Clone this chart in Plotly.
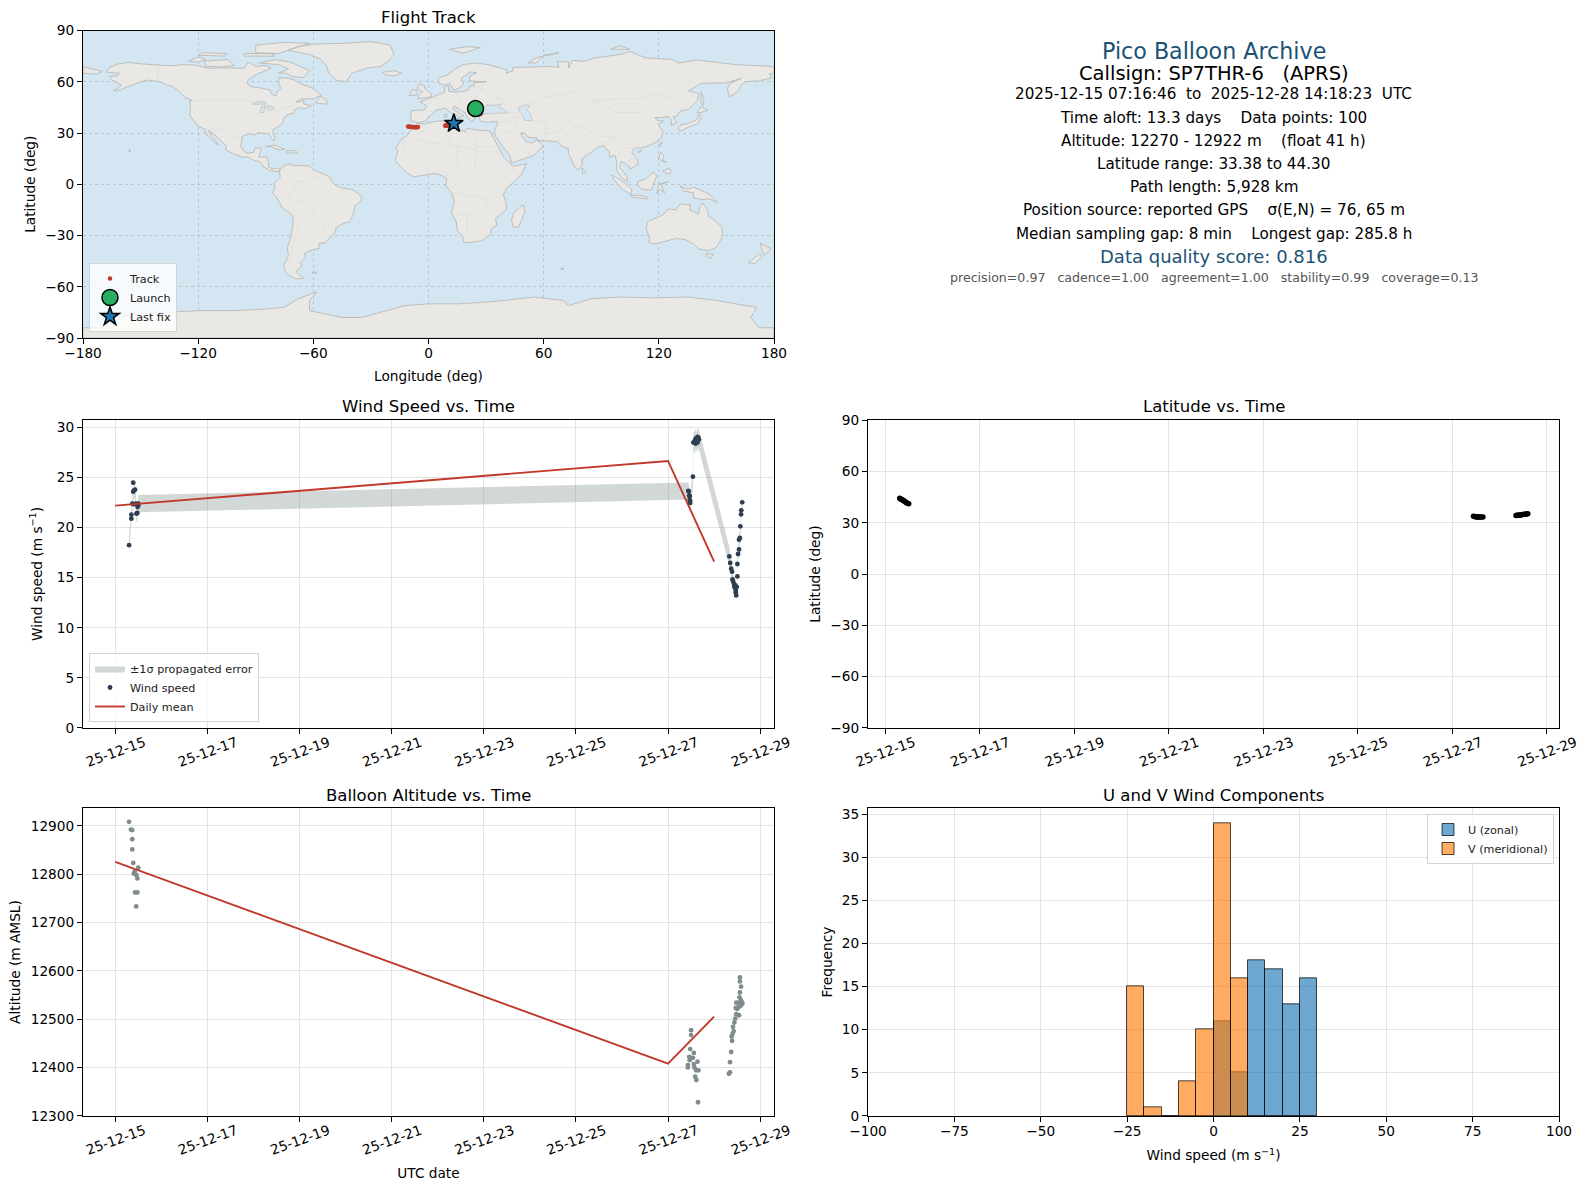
import pandas as pd
import plotly.graph_objects as go

W, H = 1587, 1189
FONT = "DejaVu Sans"
GRID = "#e3e3e3"

# --- map outlines, (lon, lat) ---
NORTH_AMERICA = [(-168,65.6),(-166,68.3),(-162,70.3),(-156.5,71.3),(-150,70.5),(-141,69.7),(-135,69.3),(-128,70),(-122,69.8),(-115,68),(-108,68),(-100,68),(-96,68),(-94,71.5),(-90,69),(-85,69.5),(-82,68),(-86,66),(-90,64),(-94,61),(-94.5,58.8),(-92,57),(-88,56.5),(-82.5,55.2),(-82,53),(-79.5,51.5),(-79,54),(-77,56),(-78,59),(-78,62.4),(-73,62),(-70,61),(-66,58.5),(-62,57),(-58,54.5),(-56,52),(-60,50),(-66,50),(-69,48),(-65,49),(-65,47),(-61,46),(-65,44),(-67,45),(-70,43.5),(-70,41.7),(-74,40.5),(-75.5,38),(-76,35.5),(-78,34),(-81,32),(-81,30),(-80,27),(-80.5,25.2),(-82,27),(-83,29.5),(-85,29.7),(-89,30.2),(-90,29),(-94,29.5),(-97,28),(-97.5,25),(-97.8,22),(-96,19),(-94,18.2),(-91,18.7),(-90.5,21),(-87,21.5),(-88,18),(-88.5,16),(-84,15.8),(-83.3,12),(-83.5,10),(-81,9),(-79.5,9.5),(-77.4,8.7),(-78,7.5),(-80,7.5),(-83,8.2),(-85.7,10),(-87.5,13),(-91,14),(-94,16),(-97,15.8),(-102,18),(-105.5,20),(-105.5,22.5),(-109,26),(-112.5,30),(-114.7,31.5),(-113,28),(-110,24),(-109.5,23),(-112,25),(-115,28.5),(-117,32.5),(-120.5,34.5),(-122.5,37.5),(-124.3,40.5),(-124,46),(-124.7,48.4),(-123,49),(-127,51),(-130,54.5),(-133,57),(-137,58.5),(-140,60),(-146,61),(-150,60),(-152,59),(-156,57.5),(-160,55.5),(-164,54.7),(-160,58),(-162,59.5),(-165,61),(-166,63),(-162,63.5),(-161,65)]
GREENLAND = [(-73,78.3),(-68,80.5),(-60,82),(-45,82.5),(-30,83.5),(-20,81.5),(-18,76),(-21,72),(-25,69),(-32,68),(-40,65),(-43,60),(-48,61),(-52,65),(-53,69),(-56,73),(-62,76)]
SOUTH_AMERICA = [(-77.5,8.5),(-75,11),(-72,12),(-71,11),(-68,11),(-62,10.7),(-60,8.5),(-55,6),(-51.5,4.5),(-50,1),(-48,-1),(-44,-2.5),(-40,-3),(-37,-5),(-35,-7),(-35,-9.5),(-38.5,-13),(-39,-17),(-41,-22),(-44.5,-23),(-48,-25.5),(-48.7,-28),(-52,-32),(-54,-34.5),(-57,-34.5),(-57,-37.5),(-62,-39),(-65,-41),(-64,-42.5),(-67,-46),(-66,-48),(-69,-51),(-68,-52.5),(-65,-55),(-69,-55.5),(-74,-52.5),(-75.5,-48),(-73,-42),(-73.5,-37),(-71.5,-30),(-70.3,-20),(-72,-17),(-76,-14),(-79,-8),(-81.3,-5),(-80,-2.5),(-80.5,0.5),(-78.5,2.5),(-77.3,4),(-77.5,7)]
AFRICA = [(-6,35.8),(-2,35.2),(3,36.8),(10,37.3),(10.5,34),(15,32.5),(19,30.5),(20,32.7),(25,31.7),(32,31.2),(32.5,30),(34,27),(36,23),(37.3,20),(39,16),(43,12),(44,10.5),(51,12),(49,7),(46,3),(41,-2),(39,-6),(40.5,-11),(40.5,-15),(35,-20),(35.5,-24),(32.8,-26),(32.5,-29),(28,-33),(22,-34),(18.5,-34.3),(18,-31),(15,-27),(14.5,-22),(12,-17),(13.5,-10),(12,-5),(9,-1),(9.5,3.5),(8,4.5),(4.5,6.2),(1,6),(-4,5),(-7.5,4.3),(-11,6.5),(-13.5,9.5),(-16.5,12.5),(-17.3,14.7),(-16,19),(-17,21),(-14.5,26),(-11,28.5),(-9.7,31),(-6.7,34)]
EURASIA = [(-9,37),(-9.3,39),(-9,43),(-2,43.5),(-1,46),(-4.5,48.3),(-1,49.5),(2,51),(4,52),(7,53.5),(8.5,54),(8.2,57),(10.5,57.5),(10.5,54.5),(14,54),(19,54.5),(21,55.5),(21.5,57.5),(24,57.5),(23.5,59.3),(28,59.7),(30,60),(25,60.2),(21.5,60.7),(21.5,63),(25,65.3),(22,65.8),(17.5,62.5),(17,60.5),(18.5,59.5),(16.5,56.5),(14.3,55.5),(12.8,55.5),(11.2,59),(8,58),(5.5,59),(5,62),(10,64),(14,67.5),(18,70),(25,71),(31,70),(41,67),(40.5,65),(44,66.5),(44,68.5),(54,68.5),(60,69),(68,68.5),(67,72),(73,71.5),(73,68),(75,72.5),(81,72),(87,74),(100,76),(105,77.7),(113,74),(127,73),(130,71),(140,72.7),(152,71),(160,70),(170,69.5),(178,69),(180,68.9),(180,65),(177.5,64.5),(179,62.3),(172,60.5),(165,60),(162.5,57.5),(162,55),(158,52),(156.7,51),(155.7,56),(157,59),(163,62),(155,59.3),(148,59.3),(142,59),(135.5,54.7),(141,53),(140,49),(135.5,44),(131,42.7),(129.5,40),(127.5,39.5),(129.3,36),(126.5,34.5),(126.5,37.5),(125,39.6),(121.5,39),(118,39),(119,37.5),(122.5,37),(119.5,35),(122,31),(121.5,28),(118.5,24.5),(114,22.3),(110,21),(108,21.5),(105.7,19),(109,14),(109,11.5),(105,8.7),(104.8,10.3),(100.5,13.5),(99.5,10),(103.5,4.5),(103.5,1.4),(100.5,4),(98,8.5),(98,14),(97,17),(94.5,16),(94,19),(91.5,22.5),(88.5,21.7),(86.5,20),(82,16.5),(80,15),(80,11),(78,8.3),(76,10.5),(73,18),(72.7,21),(69,22.5),(67,25),(62,25.2),(57,25.7),(56.5,27),(52,27.5),(50,30),(48,30),(49,28),(51,25),(54,24.2),(56.3,26),(59.8,22.5),(55,17),(45,13),(43.2,12.7),(42.5,16.5),(39,21.5),(35,28),(34.8,29.5),(34.3,31.3),(35.8,35),(36,36.8),(30.5,36.3),(27,37),(26.3,39.5),(29,41),(26,40.6),(23,40.5),(24,38),(22.5,36.7),(20,39.5),(19.5,41.5),(13.5,45.6),(12.3,44.3),(16,41.5),(18.4,40),(16.5,39.5),(15.8,38),(15.5,40),(11,42.5),(8.8,44.4),(4,43.4),(3,42),(0,39.5),(-0.5,38),(-2,36.8),(-5.5,36)]
CHUKOTKA_WEST = [(-180,68.9),(-175,67.3),(-170,66),(-173,64.5),(-180,65)]
AUSTRALIA = [(114,-22),(113.5,-26),(115,-31),(115,-34.3),(118,-35),(124,-33),(129,-31.7),(134,-32.5),(138,-35),(141,-38),(146,-39),(150,-37),(153,-31),(153,-25.5),(149,-21),(146,-19),(145.3,-15),(143,-11),(141.5,-13),(140.5,-17.5),(136,-15),(136.5,-12),(131,-11.5),(129,-15),(125,-14.5),(122,-18)]
ANTARCTICA = [(-180,-84),(-165,-84),(-158,-77),(-145,-75.5),(-120,-74),(-100,-74),(-85,-73),(-75,-72),(-68,-67),(-58,-63),(-62,-68),(-62,-74),(-45,-78),(-35,-78),(-25,-75),(-12,-71),(0,-70),(15,-70),(30,-69),(40,-68),(55,-66),(70,-68),(73,-71),(85,-67),(100,-66),(118,-66.5),(135,-66),(150,-68),(165,-71),(171,-72),(168,-78),(172,-84),(180,-84),(180,-90),(-180,-90)]
ISLANDS = [
    [(-80,73),(-72,71.5),(-67,69),(-62,66.5),(-65,62.5),(-71,63),(-74,65),(-78,65),(-73,67.5),(-78,70),(-88,71)],
    [(-117,72),(-105,73),(-101,69.5),(-108,68.7),(-116,69)],
    [(-90,77),(-78,76.5),(-72,79),(-62,82.5),(-75,83),(-90,81.5)],
    [(-125,72),(-120,74.5),(-116,73),(-120,71.5)],
    [(-96,75),(-80,75),(-82,76.5),(-96,76.5)],
    [(-120,75.5),(-106,75),(-105,76.5),(-118,77)],
    [(-59,47.7),(-53,46.8),(-53,49),(-56,51.5)],
    [(-85,22),(-80,23),(-75,20.5),(-78,20),(-82,22)],
    [(-74,19.8),(-69,19.5),(-68.5,18.5),(-74,18.2)],
    [(-156,20.2),(-155,19.5),(-156,19)],
    [(-5.5,50),(1.5,51.2),(1.5,53),(-2,56),(-2,57.7),(-5,58.6),(-6,56),(-3,54),(-5,52)],
    [(-10,52),(-6,52.2),(-6,55),(-8.5,55.3)],
    [(-24,65.5),(-18,66.5),(-14,65),(-18,63.4),(-22.5,64)],
    [(11,79),(20,80.5),(27,80),(18,76.7)],
    [(52,71),(56,74),(68,77),(60,75.5),(56,71)],
    [(95,79),(105,79),(100,81)],
    [(142,54),(143.5,50),(143,46),(142,48)],
    [(130,33),(131,34.5),(136,35.8),(140,38),(141,41.3),(142,39),(140.5,35.5),(136,33.7),(131,31)],
    [(140,42),(142,45.5),(145.5,43.3),(142,42)],
    [(120,23),(121.7,25),(121,22)],
    [(109,19),(111,20),(110,18.3)],
    [(120,16),(121,18.5),(122.5,17),(122,14),(124,13),(121,13.7)],
    [(122,7.5),(125.5,9.5),(126.5,7),(125,6)],
    [(109,1.5),(113,3),(117,7),(119,5),(117.5,1),(116,-3.5),(111,-3),(109,-0.5)],
    [(95.3,5.5),(98,4),(103.5,-0.5),(106,-3),(105.5,-6),(101,-3),(97,2)],
    [(105.5,-6.5),(110,-6.5),(114.5,-7.7),(114,-8.7),(106,-7.5)],
    [(119,-5.5),(120,0),(125,1.5),(121,0),(123,-5),(120.5,-3)],
    [(131,-1),(135,-3),(138,-1.7),(145,-5),(148,-8),(150.5,-10.5),(146,-8.5),(143,-9),(138,-8),(138,-5),(133,-4)],
    [(80,9.5),(82,7.5),(80.5,6)],
    [(144.7,-40.7),(148.3,-41),(147,-43.5),(145.5,-42.5)],
    [(172.7,-34.5),(178.5,-37.7),(175,-41.5),(174,-39)],
    [(172.5,-40.7),(174,-42),(170,-46.5),(166.5,-46),(171,-42)],
    [(49.3,-12),(50.3,-16),(47,-25),(44,-25),(43.3,-21),(44.5,-16.5)],
    [(12.5,38),(15.5,38.2),(15,36.7)],
    [(8.2,41),(9.7,41),(9.5,39),(8.5,39)],
    [(-61,-51.5),(-58,-51.5),(-59,-52.3)],
    [(69,-49),(70.5,-49.5),(69.5,-50)],
]
WATER = [
    [(28,41.5),(31,41.2),(36,41.5),(41.5,41.8),(39,44),(36.5,45),(38,47),(35,46.3),(33,46),(30.5,46.5),(28,43.5)],
    [(47,45),(51,46.8),(53,45.5),(51,44),(53,41),(54,37),(50,37.5),(49,40.5),(47,43)],
    [(-92,46.8),(-85,47),(-85,48),(-89,48.5)],
    [(-87.8,42),(-86,42),(-85,46),(-87,45.5)],
    [(-84,46),(-80,45),(-82,43),(-84,44)],
]
BORDERS = [
    [(-123,49),(-95,49),(-88,48),(-83,46),(-82,42),(-79,43),(-75,45),(-70,46),(-67,45)],
    [(-117,32.5),(-106,31.7),(-103,29),(-97.5,25.9)],
    [(-141,69.7),(-141,60)],
    [(-70,-10),(-74,-7),(-70,-4),(-70,1),(-64,2),(-60,5),(-52,2)],
    [(-70,-10),(-65,-10),(-60,-14),(-58,-20),(-55,-24),(-54,-27),(-57,-30),(-53.5,-33.5)],
    [(-70,-18),(-67,-23),(-70,-33),(-71,-40),(-72,-50),(-68,-52)],
    [(28,60),(28,56),(32,52),(40,49.5),(38,47)],
    [(49,46),(60,51),(77,54),(87,49),(98,50),(108,50),(120,53),(135,48),(131,42.7)],
    [(-9,27),(-3,25),(12,23),(25,20),(25,32)],
    [(25,22),(36,22)],
    [(10,33),(9,30),(12,23)],
    [(-2,35),(-1,32),(-9,27.5)],
    [(-17,21),(-13,21),(-13,27)],
    [(15,23),(15,12),(9,4.5)],
    [(25,20),(24,10),(34,4),(41,-2)],
    [(34,10),(36,14)],
    [(14,-17.5),(24,-18),(30,-22),(32.5,-26)],
    [(12,-5),(30,-8),(30,-15),(40.5,-11)],
    [(20,-18),(20,-28),(17,-29)],
    [(-2,43.5),(3,42.5)],
    [(2.5,51),(8,49),(7,44)],
    [(14,54),(15,51),(17,48),(13.5,46)],
    [(24,58),(28,56),(24,50),(22,48),(29,45.5),(28,41.5)],
    [(35,36.5),(42,37),(44.5,39.5),(48,38.5)],
    [(44.5,37),(46,33),(48,30)],
    [(39,32),(47,29),(52,23),(55,22),(52,19),(53,17)],
    [(61,25),(61,36),(54,37.5)],
    [(61,30),(66,30),(70,33),(74,37),(80,42),(87,49)],
    [(67,25),(71,28),(74,32),(78,35),(88,28),(97,28),(98,24),(101,21),(108,21.5)],
    [(92,21),(92,25),(97,28)],
    [(42,42),(48,42)],
    [(98,14),(100,20)],
    [(103,13),(107,15)],
    [(87,49),(98,42),(112,42),(120,47)],
]

# --- track, day of December 2025 ---
track_day = [15.31,15.33,15.35,15.37,15.39,15.41,15.43,15.45,15.47,15.50,
             27.45,27.47,27.49,27.51,27.53,27.55,27.57,27.59,27.62,27.65,
             28.35,28.37,28.39,28.41,28.43,28.45,28.47,28.49,28.52,28.55,28.57,28.60]
track_lat = [44.30,44.0,43.7,43.3,43.0,42.6,42.2,41.9,41.5,41.1,
             33.85,33.7,33.6,33.5,33.45,33.4,33.38,33.4,33.42,33.45,
             34.3,34.35,34.4,34.45,34.5,34.6,34.7,34.8,34.95,35.05,35.15,35.3]
track_lon = [24.6,24.8,25.0,25.3,25.5,25.8,26.0,26.3,26.6,26.9,
             -10.6,-10.0,-9.4,-8.8,-8.2,-7.6,-7.0,-6.5,-6.0,-5.5,
             8.7,9.0,9.4,9.8,10.1,10.5,10.9,11.2,11.7,12.1,12.6,13.0]
launch_lon, launch_lat = [24.5], [44.3]
last_lon, last_lat = [13.2], [35.6]

# --- wind speed ---
wind_day = [15.30,15.35,15.35,15.37,15.39,15.39,15.40,15.41,15.43,15.45,15.46,15.48,15.485,15.50,15.50,
            27.44,27.45,27.46,27.47,27.47,27.48,27.48,27.54,27.55,27.57,27.58,27.60,27.60,27.62,27.64,27.64,27.66,27.67,
            28.33,28.35,28.37,28.39,28.40,28.41,28.43,28.44,28.45,28.46,28.47,28.47,28.48,28.49,
            28.505,28.505,28.52,28.54,28.54,28.56,28.57,28.585,28.59,28.61]
wind_speed = [18.25,21.3,20.9,22.4,24.5,23.6,22.33,23.73,23.8,22.4,21.4,21.47,22.07,22.23,22.4,
              23.67,23.63,23.23,23.13,22.8,22.67,22.47,25.1,28.5,28.57,28.67,28.9,28.4,28.73,29.07,28.5,28.97,28.8,
              17.13,16.47,15.9,15.6,14.83,14.67,14.4,14.13,14.0,14.23,13.73,13.5,13.23,14.07,
              15.13,16.37,17.37,17.83,18.8,18.97,20.13,21.33,21.73,22.53]
wind_err = [0.8,0.8,0.8,0.85,0.8,0.85,0.85,0.8,0.85,0.85,0.85,0.85,0.9,0.85,0.87,
            0.85,0.85,0.8,0.85,0.85,0.8,0.85,0.9,1.0,1.05,1.0,1.0,0.95,1.0,1.0,1.05,1.0,1.0,
            0.95,0.9,0.85,0.8,0.7,0.65,0.55,0.5,0.5,0.45,0.4,0.4,0.35,0.45,
            0.55,0.6,0.65,0.65,0.7,0.7,0.75,0.8,0.8,0.85]
wind_mean_day = [15.0, 27.0, 28.0]
wind_mean = [22.2, 26.67, 16.6]

# --- altitude ---
alt_day = [15.30,15.34,15.37,15.37,15.37,15.39,15.50,15.42,15.405,15.46,15.48,15.43,15.48,15.455,
           27.50,27.50,27.48,27.56,27.46,27.485,27.54,27.47,27.64,27.56,27.43,27.43,27.57,27.66,27.61,27.59,27.615,27.65,
           28.32,28.345,28.345,28.37,28.39,28.38,28.40,28.425,28.41,28.44,28.46,28.48,28.54,28.50,28.47,28.52,28.57,28.61,28.54,28.61,28.48,28.55,28.58,28.56,28.585,28.56,28.56]
alt_m = [12908,12892,12891,12872,12851,12823,12813,12805,12801,12798,12791,12762,12762,12733,
         12477,12467,12438,12430,12422,12420,12420,12415,12412,12407,12405,12400,12400,12394,12394,12381,12374,12328,
         12387,12390,12411,12432,12455,12464,12469,12475,12484,12493,12501,12510,12508,12521,12523,12524,12527,12531,12534,12534,12534,12545,12539,12555,12567,12578,12586]
alt_mean_day = [15.0, 27.0, 28.0]
alt_mean = [12825, 12408, 12505]

# --- histogram ---
bin_edges = [-25, -20, -15, -10, -5, 0, 5, 10, 15, 20, 25, 30]
u_counts = [0, 0, 0, 0, 0, 11, 5, 18, 17, 13, 16]
v_counts = [15, 1, 0, 4, 10, 34, 16, 0, 0, 0, 0]

lon_ticks = [-180, -120, -60, 0, 60, 120, 180]
lat_ticks = [-90, -60, -30, 0, 30, 60, 90]


def to_time(day):
    # day of December 2025, may be fractional
    return pd.Timestamp("2025-12-01") + pd.Timedelta(days=day - 1)


def times(days):
    return [to_time(d) for d in days]


def polygons(shapes):
    xs, ys = [], []
    for shape in shapes:
        xs += [p[0] for p in shape] + [shape[0][0], None]
        ys += [p[1] for p in shape] + [shape[0][1], None]
    return xs, ys


def polylines(lines):
    xs, ys = [], []
    for line in lines:
        xs += [p[0] for p in line] + [None]
        ys += [p[1] for p in line] + [None]
    return xs, ys


def dom_x(left, right):
    return [left / W, right / W]


def dom_y(top, bottom):
    return [1 - bottom / H, 1 - top / H]


def axis_style(**kw):
    style = dict(
        automargin=False,
        showline=True, mirror=True, linecolor="black", linewidth=1,
        ticks="outside", ticklen=5, tickwidth=1, tickcolor="black",
        showgrid=True, gridcolor=GRID, gridwidth=1, zeroline=False,
        tickfont=dict(size=13.7, color="black"),
        title_font=dict(size=13.7, color="black"),
    )
    style.update(kw)
    return style


def date_axis(first, last, anchor, **kw):
    return axis_style(
        type="date", range=[to_time(first), to_time(last)], anchor=anchor,
        tick0="2025-12-15", dtick=2 * 86400000, tickformat="%y-%m-%d",
        tickangle=-20, ticklabelshift=29, ticklabelstandoff=-4, **kw,
    )


fig = go.Figure()

# map
land = [NORTH_AMERICA, GREENLAND, SOUTH_AMERICA, AFRICA, EURASIA, CHUKOTKA_WEST,
        AUSTRALIA, ANTARCTICA] + ISLANDS
land_x, land_y = polygons(land)
fig.add_trace(go.Scatter(x=land_x, y=land_y, mode="lines", fill="toself",
                         fillcolor="rgba(234,232,227,0.92)",
                         line=dict(color="#b4b4b2", width=0.8),
                         hoverinfo="skip", showlegend=False, xaxis="x", yaxis="y"))
water_x, water_y = polygons(WATER)
fig.add_trace(go.Scatter(x=water_x, y=water_y, mode="lines", fill="toself",
                         fillcolor="#d4e6f1", line=dict(color="#b4b4b2", width=0.6),
                         hoverinfo="skip", showlegend=False, xaxis="x", yaxis="y"))
border_x, border_y = polylines(BORDERS)
fig.add_trace(go.Scatter(x=border_x, y=border_y, mode="lines",
                         line=dict(color="#dcdcd8", width=0.7),
                         hoverinfo="skip", showlegend=False, xaxis="x", yaxis="y"))
fig.add_trace(go.Scatter(x=track_lon, y=track_lat, mode="markers", name="Track",
                         marker=dict(color="#c0392b", size=4.5), legend="legend",
                         xaxis="x", yaxis="y"))
fig.add_trace(go.Scatter(x=launch_lon, y=launch_lat, mode="markers", name="Launch",
                         marker=dict(color="#27ae60", size=16,
                                     line=dict(color="black", width=1.5)),
                         legend="legend", xaxis="x", yaxis="y"))
fig.add_trace(go.Scatter(x=last_lon, y=last_lat, mode="markers", name="Last fix",
                         marker=dict(color="#1f77b4", size=14, symbol="star",
                                     line=dict(color="black", width=1.5)),
                         legend="legend", xaxis="x", yaxis="y"))

# wind speed
upper = [v + e for v, e in zip(wind_speed, wind_err)]
lower = [v - e for v, e in zip(wind_speed, wind_err)]
wind_t = times(wind_day)
fig.add_trace(go.Scatter(x=wind_t + wind_t[::-1], y=upper + lower[::-1], mode="lines",
                         fill="toself", fillcolor="rgba(127,140,141,0.35)",
                         line=dict(width=0), name="±1σ propagated error",
                         legend="legend2", xaxis="x2", yaxis="y2"))
fig.add_trace(go.Scatter(x=wind_t, y=wind_speed, mode="markers", name="Wind speed",
                         marker=dict(color="#2c3e50", size=4.8), legend="legend2",
                         xaxis="x2", yaxis="y2"))
fig.add_trace(go.Scatter(x=times(wind_mean_day), y=wind_mean, mode="lines", name="Daily mean",
                         line=dict(color="#c0392b", width=1.9), legend="legend2",
                         xaxis="x2", yaxis="y2"))

# latitude
fig.add_trace(go.Scatter(x=times(track_day), y=track_lat, mode="markers", showlegend=False,
                         marker=dict(color="black", size=5.5), xaxis="x3", yaxis="y3"))

# altitude
fig.add_trace(go.Scatter(x=times(alt_day), y=alt_m, mode="markers", showlegend=False,
                         marker=dict(color="#7f8c8d", size=4.8), xaxis="x4", yaxis="y4"))
fig.add_trace(go.Scatter(x=times(alt_mean_day), y=alt_mean, mode="lines", showlegend=False,
                         line=dict(color="#c0392b", width=1.9), xaxis="x4", yaxis="y4"))

# histogram
centers = [(a + b) / 2 for a, b in zip(bin_edges[:-1], bin_edges[1:])]
fig.add_trace(go.Bar(x=centers, y=u_counts, width=5, name="U (zonal)",
                     marker=dict(color="rgba(31,119,180,0.65)",
                                 line=dict(color="rgba(0,0,0,0.7)", width=1)),
                     legend="legend3", xaxis="x5", yaxis="y5"))
fig.add_trace(go.Bar(x=centers, y=v_counts, width=5, name="V (meridional)",
                     marker=dict(color="rgba(255,127,14,0.65)",
                                 line=dict(color="rgba(0,0,0,0.7)", width=1)),
                     legend="legend3", xaxis="x5", yaxis="y5"))

legend_base = dict(font=dict(size=11.2, color="#222222", family=FONT),
                   bgcolor="rgba(255,255,255,0.8)", bordercolor="#d4d4d4", borderwidth=1,
                   itemsizing="trace", tracegroupgap=0)

titles = [("Flight Track", 428.5, 18), ("Wind Speed vs. Time", 428.5, 406),
          ("Latitude vs. Time", 1213.5, 406), ("Balloon Altitude vs. Time", 428.5, 796),
          ("U and V Wind Components", 1213.5, 796)]
info_lines = [
    ("Pico Balloon Archive", 50.5, 22.2, "#1a5276"),
    ("Callsign: SP7THR-6   (APRS)", 73, 19.5, "black"),
    ("2025-12-15 07:16:46  to  2025-12-28 14:18:23  UTC", 94.5, 15.2, "black"),
    ("Time aloft: 13.3 days    Data points: 100", 118, 15.2, "black"),
    ("Altitude: 12270 - 12922 m    (float 41 h)", 141, 15.2, "black"),
    ("Latitude range: 33.38 to 44.30", 163.5, 15.2, "black"),
    ("Path length: 5,928 km", 187, 15.2, "black"),
    ("Position source: reported GPS    σ(E,N) = 76, 65 m", 210, 15.2, "black"),
    ("Median sampling gap: 8 min    Longest gap: 285.8 h", 233.5, 15.2, "black"),
    ("Data quality score: 0.816", 256.5, 18, "#1a5276"),
    ("precision=0.97   cadence=1.00   agreement=1.00   stability=0.99   coverage=0.13", 277.5, 12.6, "#555555"),
]
annotations = []
for text, x, y in titles:
    annotations.append(dict(text=text, x=x / W, y=1 - y / H, xref="paper", yref="paper",
                            showarrow=False, xanchor="center", yanchor="middle",
                            font=dict(size=16.5, color="black")))
for text, y, size, color in info_lines:
    annotations.append(dict(text=text, x=1213.5 / W, y=1 - y / H, xref="paper", yref="paper",
                            showarrow=False, xanchor="center", yanchor="middle",
                            font=dict(size=size, color=color)))

map_grid = "rgba(120,120,120,0.28)"
fig.update_layout(
    width=W, height=H, margin=dict(l=0, r=0, t=0, b=0), autosize=False,
    paper_bgcolor="white", plot_bgcolor="white", barmode="overlay", bargap=0,
    font=dict(family=FONT, color="black"),
    annotations=annotations,
    xaxis=axis_style(domain=dom_x(83, 774), range=[-180, 180], tickvals=lon_ticks, anchor="y",
                     gridcolor=map_grid, griddash="dot", ticklabelstandoff=-2,
                     title=dict(text="Longitude (deg)", standoff=10)),
    yaxis=axis_style(domain=dom_y(30.5, 338), range=[-90, 90], tickvals=lat_ticks, anchor="x",
                     gridcolor=map_grid, griddash="dot",
                     title=dict(text="Latitude (deg)", standoff=6)),
    xaxis2=dict(date_axis(14.30, 29.30, "y2"), domain=dom_x(83, 774)),
    yaxis2=axis_style(domain=dom_y(420.3, 727.8), range=[0, 30.73], dtick=5, anchor="x2",
                      title=dict(text="Wind speed (m s<sup>−1</sup>)", standoff=11)),
    xaxis3=dict(date_axis(14.639, 29.26, "y3"), domain=dom_x(868, 1559)),
    yaxis3=axis_style(domain=dom_y(420.3, 727.8), range=[-90, 90], tickvals=lat_ticks, anchor="x3",
                      title=dict(text="Latitude (deg)", standoff=6)),
    xaxis4=dict(date_axis(14.30, 29.30, "y4", title=dict(text="UTC date", standoff=11)),
                domain=dom_x(83, 774)),
    yaxis4=axis_style(domain=dom_y(808.3, 1115.8), range=[12300, 12936], dtick=100, anchor="x4",
                      tickformat="d", title=dict(text="Altitude (m AMSL)", standoff=6)),
    xaxis5=axis_style(domain=dom_x(868, 1559), range=[-100, 100], dtick=25, anchor="y5",
                      ticklabelstandoff=-2,
                      title=dict(text="Wind speed (m s<sup>−1</sup>)", standoff=12)),
    yaxis5=axis_style(domain=dom_y(808.3, 1115.8), range=[0, 35.7], dtick=5, anchor="x5",
                      title=dict(text="Frequency", standoff=6)),
    legend=dict(legend_base, x=89 / W, y=1 - 332 / H, xanchor="left", yanchor="bottom"),
    legend2=dict(legend_base, x=89 / W, y=1 - 722 / H, xanchor="left", yanchor="bottom"),
    legend3=dict(legend_base, x=1554 / W, y=1 - 814 / H, xanchor="right", yanchor="top"),
)
# ocean behind the map only
fig.add_shape(type="rect", xref="x domain", yref="y domain", x0=0, x1=1, y0=0, y1=1,
              fillcolor="#d4e6f1", line=dict(width=0), layer="below")

fig.write_html("out.html", post_script="document.body.style.margin='0';",
               config={"displayModeBar": False})
